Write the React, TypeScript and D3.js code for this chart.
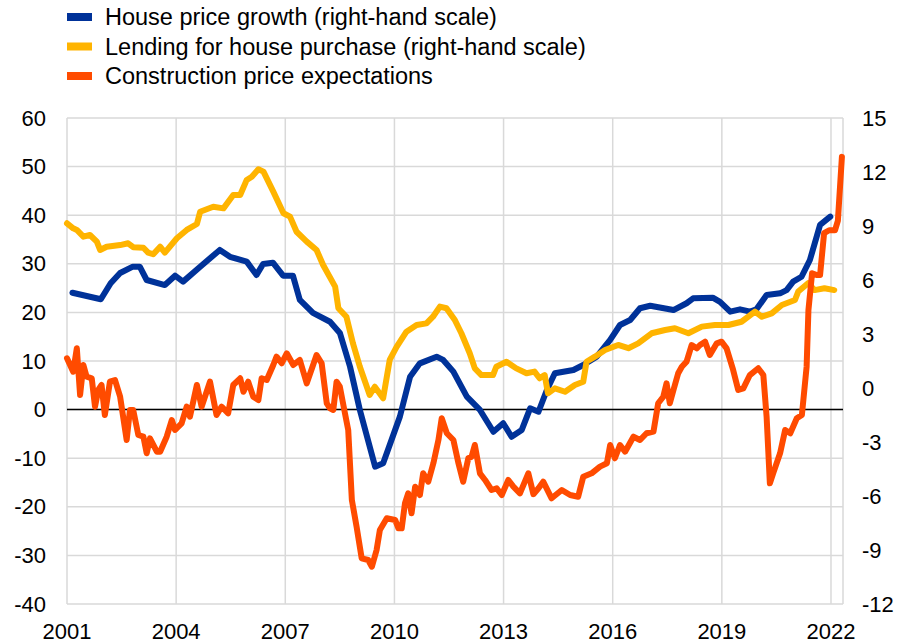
import React from "react";
import * as d3 from "d3";

// House price growth (right-hand scale), % y-o-y
const hpDates = [2001.15, 2001.93, 2002.2, 2002.46, 2002.81, 2003.0, 2003.19, 2003.69, 2003.97, 2004.19, 2004.66, 2005.2, 2005.48, 2005.94, 2006.21, 2006.39, 2006.66, 2006.94, 2007.21, 2007.4, 2007.76, 2008.23, 2008.5, 2008.78, 2009.05, 2009.47, 2009.69, 2010.15, 2010.43, 2010.7, 2011.16, 2011.34, 2011.62, 2011.99, 2012.35, 2012.72, 2012.99, 2013.22, 2013.5, 2013.73, 2013.96, 2014.19, 2014.41, 2014.92, 2015.19, 2015.56, 2015.93, 2016.2, 2016.48, 2016.75, 2017.03, 2017.67, 2018.03, 2018.21, 2018.75, 2018.95, 2019.23, 2019.5, 2019.78, 2019.95, 2020.23, 2020.6, 2020.78, 2020.96, 2021.19, 2021.42, 2021.7, 2021.98];
const hpValues = [5.29, 4.93, 5.82, 6.39, 6.74, 6.74, 6.0, 5.72, 6.24, 5.91, 6.74, 7.67, 7.29, 7.02, 6.28, 6.89, 6.96, 6.24, 6.24, 4.89, 4.17, 3.68, 3.06, 1.18, -1.22, -4.37, -4.18, -1.59, 0.63, 1.37, 1.74, 1.56, 0.91, -0.48, -1.22, -2.43, -1.96, -2.71, -2.33, -1.13, -1.32, -0.11, 0.82, 1.0, 1.28, 1.74, 2.67, 3.5, 3.78, 4.43, 4.57, 4.33, 4.71, 4.98, 5.02, 4.79, 4.24, 4.37, 4.24, 4.37, 5.17, 5.26, 5.44, 5.91, 6.18, 7.11, 9.06, 9.52];

// Lending for house purchase (right-hand scale), % y-o-y
const ldDates = [2001.0, 2001.17, 2001.27, 2001.45, 2001.63, 2001.82, 2001.91, 2002.09, 2002.46, 2002.68, 2002.82, 2003.1, 2003.23, 2003.37, 2003.56, 2003.69, 2004.02, 2004.29, 2004.57, 2004.66, 2005.02, 2005.3, 2005.57, 2005.76, 2005.94, 2006.08, 2006.26, 2006.4, 2006.67, 2006.95, 2007.13, 2007.31, 2007.59, 2007.86, 2008.04, 2008.37, 2008.46, 2008.68, 2008.86, 2009.05, 2009.32, 2009.46, 2009.69, 2009.87, 2010.06, 2010.33, 2010.61, 2010.88, 2011.06, 2011.25, 2011.43, 2011.66, 2011.84, 2012.07, 2012.21, 2012.39, 2012.71, 2012.8, 2013.08, 2013.35, 2013.63, 2013.85, 2013.99, 2014.13, 2014.22, 2014.41, 2014.69, 2014.96, 2015.19, 2015.28, 2015.51, 2015.79, 2016.15, 2016.43, 2016.7, 2017.07, 2017.44, 2017.71, 2018.08, 2018.45, 2018.81, 2019.18, 2019.54, 2019.91, 2020.1, 2020.37, 2020.65, 2021.01, 2021.1, 2021.37, 2021.55, 2021.82, 2022.09];
const ldValues = [9.15, 8.87, 8.78, 8.41, 8.5, 8.13, 7.67, 7.85, 7.94, 8.04, 7.82, 7.79, 7.52, 7.43, 7.85, 7.52, 8.32, 8.78, 9.11, 9.79, 10.07, 9.98, 10.72, 10.72, 11.56, 11.74, 12.15, 12.02, 10.91, 9.71, 9.52, 8.68, 8.13, 7.67, 6.83, 5.63, 4.43, 3.96, 2.48, 1.18, -0.39, 0.07, -0.57, 1.56, 2.29, 3.13, 3.5, 3.59, 3.96, 4.52, 4.43, 3.78, 3.04, 1.93, 1.09, 0.72, 0.72, 1.18, 1.46, 1.09, 0.82, 0.91, 0.54, 0.72, -0.29, -0.02, -0.21, 0.17, 0.35, 1.46, 1.74, 2.11, 2.39, 2.21, 2.48, 3.04, 3.22, 3.32, 3.04, 3.41, 3.5, 3.5, 3.68, 4.24, 3.96, 4.15, 4.61, 4.89, 5.36, 5.82, 5.44, 5.54, 5.44];

// Construction price expectations (left-hand scale), balance
const cpDates = [2001.0, 2001.17, 2001.27, 2001.36, 2001.45, 2001.54, 2001.68, 2001.77, 2001.86, 2001.95, 2002.04, 2002.18, 2002.32, 2002.46, 2002.64, 2002.73, 2002.82, 2002.96, 2003.1, 2003.19, 2003.28, 2003.47, 2003.56, 2003.74, 2003.88, 2003.97, 2004.15, 2004.29, 2004.38, 2004.57, 2004.7, 2004.93, 2005.11, 2005.25, 2005.43, 2005.57, 2005.76, 2005.85, 2005.98, 2006.12, 2006.26, 2006.35, 2006.49, 2006.67, 2006.76, 2006.9, 2007.04, 2007.22, 2007.4, 2007.59, 2007.86, 2008.0, 2008.14, 2008.23, 2008.32, 2008.41, 2008.5, 2008.64, 2008.73, 2008.83, 2008.96, 2009.1, 2009.28, 2009.38, 2009.51, 2009.6, 2009.79, 2010.02, 2010.11, 2010.2, 2010.29, 2010.38, 2010.47, 2010.57, 2010.7, 2010.79, 2010.93, 2011.07, 2011.21, 2011.3, 2011.44, 2011.62, 2011.76, 2011.89, 2012.03, 2012.12, 2012.21, 2012.35, 2012.49, 2012.67, 2012.81, 2012.95, 2013.13, 2013.27, 2013.45, 2013.68, 2013.82, 2013.96, 2014.09, 2014.32, 2014.6, 2014.83, 2015.05, 2015.19, 2015.42, 2015.65, 2015.84, 2015.93, 2016.06, 2016.2, 2016.34, 2016.57, 2016.75, 2016.93, 2017.12, 2017.25, 2017.39, 2017.48, 2017.57, 2017.67, 2017.8, 2017.9, 2018.03, 2018.17, 2018.31, 2018.4, 2018.54, 2018.67, 2018.86, 2018.99, 2019.13, 2019.31, 2019.45, 2019.59, 2019.77, 2020.0, 2020.14, 2020.23, 2020.32, 2020.41, 2020.6, 2020.74, 2020.88, 2021.06, 2021.2, 2021.33, 2021.38, 2021.48, 2021.61, 2021.7, 2021.81, 2021.95, 2022.11, 2022.19, 2022.3];
const cpValues = [10.56, 7.8, 12.61, 3.0, 9.18, 6.77, 6.44, 0.6, 4.03, 5.06, -1.11, 5.74, 6.09, 2.65, -6.25, -0.08, -0.08, -5.23, -5.58, -8.99, -5.91, -8.66, -8.66, -5.58, -2.14, -4.2, -2.82, 0.6, -1.46, 5.06, 0.6, 5.74, -1.11, 0.6, -0.76, 5.06, 6.44, 3.68, 5.74, 2.65, 1.96, 6.44, 6.09, 9.18, 10.89, 9.53, 11.58, 9.18, 10.21, 5.41, 11.24, 9.53, 1.3, 0.27, -0.08, 5.74, 4.71, -0.76, -4.2, -18.6, -24.09, -30.6, -30.95, -32.33, -28.9, -24.77, -22.36, -22.71, -24.42, -24.42, -19.28, -17.22, -21.34, -15.86, -17.57, -13.11, -14.84, -11.05, -6.25, -1.79, -4.87, -6.25, -11.05, -14.84, -10.02, -9.69, -7.28, -13.11, -14.48, -16.54, -16.19, -17.57, -14.48, -15.86, -17.22, -13.11, -17.4, -16.19, -14.84, -18.25, -16.54, -17.57, -17.92, -13.8, -13.11, -11.74, -11.05, -7.28, -10.02, -7.28, -8.66, -5.58, -6.25, -4.87, -4.54, 1.3, 2.65, 5.41, 1.3, 4.03, 7.47, 8.83, 9.86, 13.29, 12.61, 13.29, 13.97, 11.24, 13.64, 13.97, 12.61, 8.15, 4.03, 4.38, 7.11, 8.5, 7.11, -1.46, -15.17, -13.11, -8.99, -4.2, -4.87, -1.79, -1.11, 8.83, 20.49, 28.05, 27.7, 27.7, 36.3, 36.9, 36.9, 38.9, 52.0];

const xTickYears = [2001, 2004, 2007, 2010, 2013, 2016, 2019, 2022];
const leftTicks = [60, 50, 40, 30, 20, 10, 0, -10, -20, -30, -40];
const rightTicks = [15, 12, 9, 6, 3, 0, -3, -6, -9, -12];

const seriesNames = [
  "House price growth (right-hand scale)",
  "Lending for house purchase (right-hand scale)",
  "Construction price expectations",
];
const seriesColors = ["#003299", "#FFB400", "#FF4B00"];

const W = 899;
const H = 644;
const PL = 67;
const PR = 843;
const PT = 118;
const PB = 604;
const FONT = "'Liberation Sans', Arial, sans-serif";

export default function App() {
  const x = d3.scaleLinear().domain([2001, 2022.33]).range([PL, PR]);
  const yL = d3.scaleLinear().domain([-40, 60]).range([PB, PT]);
  const yR = d3.scaleLinear().domain([-12, 15]).range([PB, PT]);

  const mk = (dates: number[], vals: number[], ys: d3.ScaleLinear<number, number>) =>
    d3
      .line<number>()
      .x((_, i) => x(dates[i]))
      .y((v) => ys(v))(vals) || "";

  const paths = [
    mk(hpDates, hpValues, yR),
    mk(ldDates, ldValues, yR),
    mk(cpDates, cpValues, yL),
  ];

  return (
    <svg
      width={W}
      height={H}
      style={{ position: "absolute", left: 0, top: 0, background: "#fff" }}
      fontFamily={FONT}
    >
      {leftTicks.map((t) => (
        <line key={"h" + t} x1={PL} x2={PR} y1={yL(t)} y2={yL(t)} stroke="#d9d9d9" strokeWidth={1.5} />
      ))}
      {xTickYears.map((t) => (
        <line key={"v" + t} x1={x(t)} x2={x(t)} y1={PT} y2={PB} stroke="#d9d9d9" strokeWidth={1.5} />
      ))}
      <line x1={PR} x2={PR} y1={PT} y2={PB} stroke="#d9d9d9" strokeWidth={1.5} />
      <line x1={PL} x2={PR} y1={yL(0)} y2={yL(0)} stroke="#000" strokeWidth={1.5} />

      {paths.map((d, i) => (
        <path
          key={"p" + i}
          d={d}
          fill="none"
          stroke={seriesColors[i]}
          strokeWidth={6}
          strokeLinejoin="round"
          strokeLinecap="round"
        />
      ))}

      {leftTicks.map((t) => (
        <text key={"l" + t} x={46} y={yL(t)} textAnchor="end" dominantBaseline="central" fontSize={22} fill="#000">
          {t}
        </text>
      ))}
      {rightTicks.map((t) => (
        <text key={"r" + t} x={862} y={yR(t)} textAnchor="start" dominantBaseline="central" fontSize={22} fill="#000">
          {t}
        </text>
      ))}
      {xTickYears.map((t) => (
        <text key={"x" + t} x={x(t)} y={631} textAnchor="middle" dominantBaseline="central" fontSize={22} fill="#000">
          {t}
        </text>
      ))}

      {seriesNames.map((n, i) => (
        <g key={"lg" + i} transform={`translate(0, ${17 + i * 29.5})`}>
          <rect x={67} y={-4} width={25} height={8} fill={seriesColors[i]} />
          <text x={105} y={0} dominantBaseline="central" fontSize={23.5} fill="#000">
            {n}
          </text>
        </g>
      ))}
    </svg>
  );
}
